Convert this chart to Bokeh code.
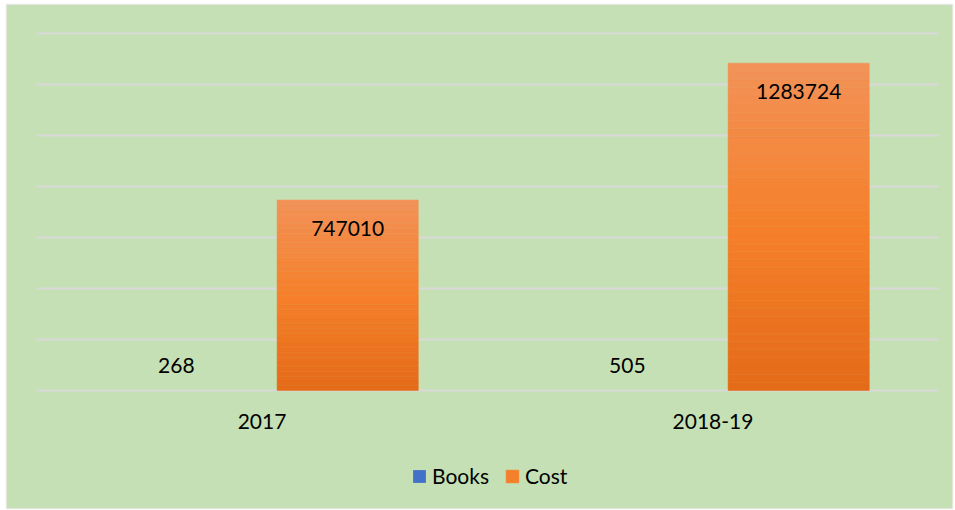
from bokeh.plotting import figure
from bokeh.models import ColumnDataSource, Legend, LegendItem, BoxAnnotation, Range1d
from bokeh.core.properties import value
from bokeh.embed import file_html
from bokeh.resources import INLINE

# ---- data ----
years = ["2017", "2018-19"]
books = [268, 505]
cost = [747010, 1283724]
y_ticks = [0, 200000, 400000, 600000, 800000, 1000000, 1200000, 1400000]

FONT = "Lato"
FS = "21px"
BG = "#C5E0B4"
GRID = "#D9D9D9"
BAR_W = 0.313
OFF_BOOKS = -0.19
OFF_COST = 0.19

def lerp(c1, c2, t):
    return tuple(int(round(a + (b - a) * t)) for a, b in zip(c1, c2))

def grad(stops, t):
    for (p0, c0), (p1, c1) in zip(stops, stops[1:]):
        if p0 <= t <= p1:
            return "#%02x%02x%02x" % lerp(c0, c1, (t - p0) / (p1 - p0))
    return "#%02x%02x%02x" % stops[-1][1]

cost_stops = [(0.0, (228, 106, 24)), (0.5, (245, 128, 42)), (1.0, (242, 146, 88))]
books_stops = [(0.0, (47, 94, 186)), (0.5, (65, 112, 200)), (1.0, (97, 137, 214))]

# frame covers the whole canvas; plot area (categories 0..2, values 0..1.4M)
# sits at x 36..938 px, y 33..390 px
W, H = 955, 510
PX_L, PX_R, PX_T, PX_B = 36, 938, 33, 390
ncat = len(years)
ymax = y_ticks[-1]
upx = ncat / (PX_R - PX_L)
vpx = ymax / (PX_B - PX_T)
x_range = Range1d(-PX_L * upx, (W - PX_L) * upx)
y_range = Range1d(-(H - PX_B) * vpx, ymax + PX_T * vpx)

p = figure(x_range=x_range, y_range=y_range, width=W, height=H,
           output_backend="svg", toolbar_location=None,
           min_border=0, min_border_left=0, min_border_right=0,
           min_border_top=0, min_border_bottom=0)
p.axis.visible = False
p.grid.visible = False
p.background_fill_color = "#FFFFFF"
p.border_fill_color = "#FFFFFF"
p.outline_line_color = None

# chart-area panel with light grey border
panel = BoxAnnotation(left=6, right=952, top=4, bottom=508,
                      left_units="canvas", right_units="canvas",
                      top_units="canvas", bottom_units="canvas",
                      fill_color=BG, fill_alpha=1, line_color=GRID, line_width=2,
                      level="image", editable=False)
p.add_layout(panel)

xc = [i + 0.5 for i in range(ncat)]

N = 40
def gradient_bars(vals, offset, stops, outline):
    xs, bots, tops, cols = [], [], [], []
    for xi, v in zip(xc, vals):
        for i in range(N):
            xs.append(xi + offset)
            bots.append(v * i / N)
            tops.append(v * (i + 1) / N)
            cols.append(grad(stops, (i + 0.5) / N))
    src = ColumnDataSource(dict(x=xs, bottom=bots, top=tops, color=cols))
    return p.vbar(x="x", bottom="bottom", top="top", width=BAR_W,
                  fill_color="color", line_color="color" if outline else None,
                  line_width=0.5, source=src)

r_books = gradient_bars(books, OFF_BOOKS, books_stops, False)

# horizontal gridlines across the category extent
p.segment(x0=[0] * len(y_ticks), x1=[ncat] * len(y_ticks), y0=y_ticks, y1=y_ticks,
          line_color=GRID, line_width=2)

r_cost = gradient_bars(cost, OFF_COST, cost_stops, True)

# data labels
p.text(x=[x + OFF_BOOKS for x in xc], y=books, text=[str(v) for v in books],
       text_font=value(FONT), text_font_size=FS, text_color="#000000",
       text_align="center", text_baseline="middle", y_offset=-25)
p.text(x=[x + OFF_COST for x in xc], y=cost, text=[str(v) for v in cost],
       text_font=value(FONT), text_font_size=FS, text_color="#000000",
       text_align="center", text_baseline="middle", y_offset=28)

# category labels
p.text(x=xc, y=[0] * ncat, text=years,
       text_font=value(FONT), text_font_size=FS, text_color="#000000",
       text_align="center", text_baseline="middle", y_offset=31)

legend = Legend(items=[LegendItem(label="Books", renderers=[r_books], index=N // 2),
                       LegendItem(label="Cost", renderers=[r_cost], index=N // 2)],
                orientation="horizontal", location=(411, 22),
                background_fill_alpha=0, border_line_color=None,
                label_text_font=FONT, label_text_font_size=FS,
                label_text_color="#000000",
                glyph_width=16, glyph_height=16, label_standoff=5, spacing=15,
                margin=0, padding=0)
p.add_layout(legend, "center")

open("out.html", "w").write(file_html(p, INLINE))
